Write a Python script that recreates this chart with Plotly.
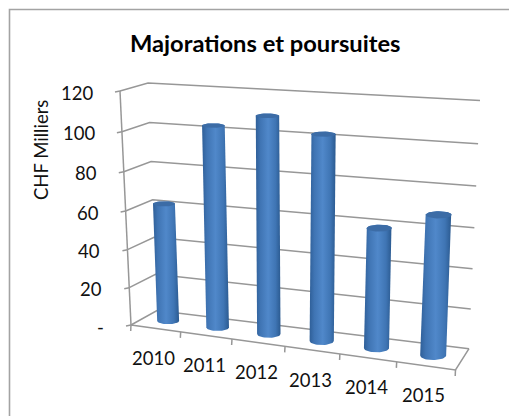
import numpy as np
import plotly.graph_objects as go

# ---- data ----
categories = ["2010", "2011", "2012", "2013", "2014", "2015"]
values = [62, 103.5, 110, 103, 60, 69]
value_ticks = [0, 20, 40, 60, 80, 100, 120]
value_tick_labels = ["-", "20", "40", "60", "80", "100", "120"]
chart_title = "Majorations et poursuites"
value_axis_title = "CHF Milliers"

# ---- 3D box seen by the camera: corner -> pixel ----
V_MAX = 120.0
CORNERS = {  # (u, depth, top) : (px, py)
    (0, 0, 0): (131, 325), (0, 0, 1): (120, 91),
    (0, 1, 0): (157, 310.6), (0, 1, 1): (148, 83),
    (1, 1, 0): (469, 348.7), (1, 1, 1): (480, 100.5),
    (1, 0, 0): (455.5, 370), (1, 0, 1): (468, 114),
}
K_U = 1.107
B_V = -0.000417
FONT = "Lato"
GRID = "#979797"
TEXT = "#111111"


def project(u, d, v):
    g = u / (u + K_U * (1 - u))
    t = v * (1 + V_MAX * B_V) / (V_MAX * (1 + B_V * v))
    p = np.zeros(2)
    for (cu, cd, ct), xy in CORNERS.items():
        w = (g if cu else 1 - g) * (d if cd else 1 - d) * (t if ct else 1 - t)
        p += w * np.array(xy)
    return p


fig = go.Figure()


def line(pts, color=GRID, width=1.5):
    fig.add_trace(go.Scatter(x=[p[0] for p in pts], y=[p[1] for p in pts], mode="lines",
                             line=dict(color=color, width=width), hoverinfo="skip", showlegend=False))


# chart frame (left and top edges are the only ones inside the crop)
line([(9.5, 416), (9.5, 9.5), (509, 9.5)], "#a3a3a3", 1.6)

# walls
for v in value_ticks:
    line([project(0, 0, v), project(0, 1, v), project(1, 1, v)])
    a = project(0, 0, v)
    line([(a[0] - 5, a[1] + 1), a])
line([project(0, 0, 0), project(0, 0, V_MAX)])
line([project(1, 1, 0), project(1, 0, 0), project(0, 0, 0)])
n = len(categories)
for i in range(n + 1):
    a = project(i / n, 0, 0)
    line([a, (a[0] - 0.3, a[1] + 6)])

# cylinders
theta = np.linspace(0, np.pi, 25)
for i, val in enumerate(values):
    u = (i + 0.5) / n
    bot = project(u, 0.5, 0)
    top = project(u, 0.5, val)
    rx = 0.225 * (project(u + 0.5 / n, 0.5, 0)[0] - project(u - 0.5 / n, 0.5, 0)[0])
    ry_b = 0.22 * abs(project(u, 1, 0)[1] - project(u, 0, 0)[1])
    ry_t = 0.22 * abs(project(u, 1, val)[1] - project(u, 0, val)[1])
    xb = bot[0] - rx * np.cos(theta)
    yb = bot[1] + ry_b * np.sin(theta)
    xt = top[0] + rx * np.cos(theta)
    yt = top[1] - ry_t * np.sin(theta)
    fig.add_trace(go.Scatter(
        x=np.r_[xb, xt, xb[0]].tolist(), y=np.r_[yb, yt, yb[0]].tolist(),
        mode="lines", line=dict(width=0, color="rgba(0,0,0,0)"), fill="toself",
        fillgradient=dict(type="horizontal", colorscale=[
            [0, "#2f5f98"], [0.18, "#3f74b3"], [0.5, "#5088ca"], [0.8, "#3f75b4"], [1, "#2b5a90"]]),
        hoverinfo="skip", showlegend=False))
    full = np.linspace(0, 2 * np.pi, 41)
    fig.add_trace(go.Scatter(
        x=(top[0] + rx * np.cos(full)).tolist(), y=(top[1] + ry_t * np.sin(full)).tolist(),
        mode="lines", line=dict(width=0, color="rgba(0,0,0,0)"), fill="toself", fillcolor="#3c6ca6",
        hoverinfo="skip", showlegend=False))

ann = []
for v, lab in zip(value_ticks, value_tick_labels):
    p = project(0, 0, v)
    ann.append(dict(x=p[0] - 25, y=p[1] + 1.5, text=lab, xanchor="right", yanchor="middle",
                    showarrow=False, font=dict(family=FONT, size=18.5, color=TEXT)))
for i, c in enumerate(categories):
    p = project((i + 0.5) / n, 0, 0)
    ann.append(dict(x=p[0] - 2, y=p[1] + 29.5, text=c, xanchor="center", yanchor="middle",
                    showarrow=False, font=dict(family=FONT, size=18.5, color=TEXT)))
ann.append(dict(x=41, y=150, text=value_axis_title, textangle=-90, xanchor="center", yanchor="middle",
                showarrow=False, font=dict(family=FONT, size=18.5, color=TEXT)))
ann.append(dict(x=265.5, y=43, text="<b>" + chart_title + "</b>", xanchor="center", yanchor="middle",
                showarrow=False, font=dict(family=FONT, size=23.7, color="#000000")))

fig.update_layout(
    width=509, height=416, margin=dict(l=0, r=0, t=0, b=0), autosize=False,
    paper_bgcolor="white", plot_bgcolor="white", showlegend=False, annotations=ann,
    xaxis=dict(range=[0, 509], visible=False, fixedrange=True),
    yaxis=dict(range=[416, 0], visible=False, fixedrange=True),
)
fig.write_html("out.html", config={"displayModeBar": False},
               post_script="document.body.style.margin='0';document.body.style.overflow='hidden';")
